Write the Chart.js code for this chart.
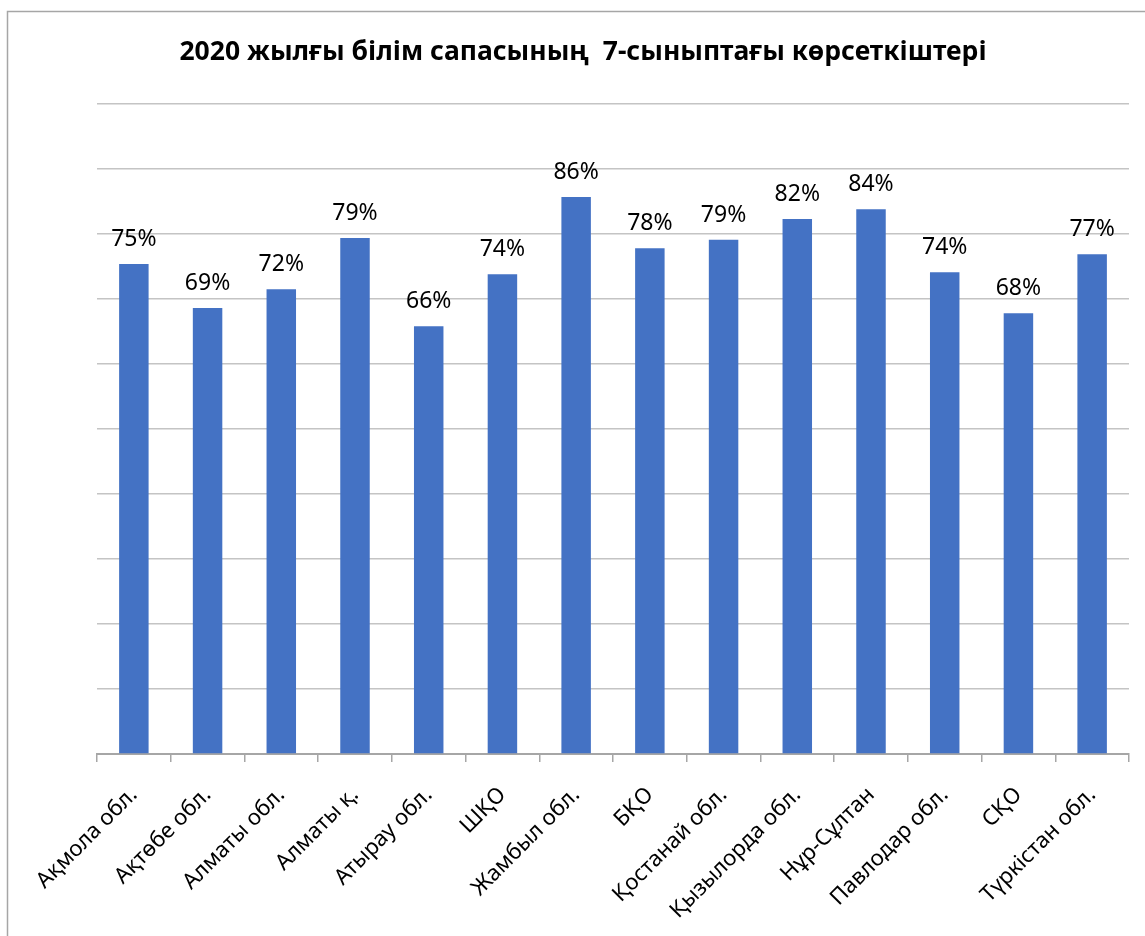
<!DOCTYPE html>
<html>
<head>
<meta charset="utf-8">
<script src="https://cdn.jsdelivr.net/npm/chart.js@4/dist/chart.umd.min.js"></script>
<style>
  html, body { margin: 0; padding: 0; background: #fff; }
  #wrap { width: 1145px; height: 936px; position: relative; }
</style>
</head>
<body>
<div id="wrap"><canvas id="chart" width="1145" height="936"></canvas></div>
<script>
/* ---------- Данные ---------- */
const title = '2020 жылғы білім сапасының  7-сыныптағы көрсеткіштері';
const regions = [
  'Ақмола обл.', 'Ақтөбе обл.', 'Алматы обл.', 'Алматы қ.', 'Атырау обл.', 'ШҚО',
  'Жамбыл обл.', 'БҚО', 'Қостанай обл.', 'Қызылорда обл.', 'Нұр-Сұлтан',
  'Павлодар обл.', 'СҚО', 'Түркістан обл.',
];
const quality = [75.4, 68.6, 71.5, 79.4, 65.8, 73.8, 85.7, 77.8, 79.1, 82.3, 83.8, 74.1, 67.8, 76.9];
const yTicks = [0, 10, 20, 30, 40, 50, 60, 70, 80, 90, 100];

const C = { bar: '#4472C4', grid: '#c4c4c4', axis: '#a6a6a6', frame: '#a6a6a6', text: '#000' };
const FONT = "'Noto Sans', 'Open Sans', sans-serif";

/* ---------- Плагины: рамка, заголовок, подписи значений ---------- */
const frame = {
  id: 'frame',
  beforeDraw(chart) {
    const { ctx } = chart;
    ctx.save();
    ctx.fillStyle = '#fff';
    ctx.fillRect(0, 0, chart.width, chart.height);
    ctx.strokeStyle = C.frame;
    ctx.lineWidth = 1.5;
    ctx.strokeRect(7.5, 11.5, 2000, 2000);
    ctx.restore();
  },
};

const heading = {
  id: 'heading',
  afterDraw(chart) {
    const { ctx } = chart;
    ctx.save();
    ctx.font = `bold 26.5px ${FONT}`;
    ctx.fillStyle = C.text;
    ctx.textAlign = 'center';
    ctx.textBaseline = 'middle';
    ctx.fillText(title, 583, 52);
    ctx.restore();
  },
};

const valueLabels = {
  id: 'valueLabels',
  afterDatasetsDraw(chart) {
    const { ctx } = chart;
    const meta = chart.getDatasetMeta(0);
    ctx.save();
    ctx.font = `23px ${FONT}`;
    ctx.fillStyle = C.text;
    ctx.textAlign = 'center';
    ctx.textBaseline = 'alphabetic';
    meta.data.forEach((bar, i) => {
      ctx.fillText(Math.round(quality[i]) + '%', bar.x, bar.y - 18);
    });
    ctx.restore();
  },
};

/* ---------- Диаграмма ---------- */
new Chart(document.getElementById('chart'), {
  type: 'bar',
  data: {
    labels: regions,
    datasets: [{
      data: quality,
      backgroundColor: C.bar,
      borderWidth: 0,
      categoryPercentage: 1,
      barPercentage: 0.4,
    }],
  },
  options: {
    responsive: false,
    animation: false,
    layout: { padding: { left: 97, right: 16, top: 104, bottom: 0 } },
    plugins: { legend: { display: false }, tooltip: { enabled: false } },
    scales: {
      x: {
        afterFit(scale) { scale.height = 182; },
        grid: { drawOnChartArea: false, drawTicks: true, tickLength: 8, color: C.axis, lineWidth: 1.5 },
        border: { color: C.axis, width: 2 },
        ticks: {
          autoSkip: false, minRotation: 45, maxRotation: 45, padding: 20,
          color: C.text, font: { family: FONT, size: 22 },
        },
      },
      y: {
        min: 0, max: 100,
        afterFit(scale) { scale.width = 0; },
        afterBuildTicks(scale) { scale.ticks = yTicks.map((v) => ({ value: v })); },
        ticks: { display: false },
        border: { display: false },
        grid: { color: C.grid, lineWidth: 1.5, drawTicks: false },
      },
    },
  },
  plugins: [frame, heading, valueLabels],
});
</script>
</body>
</html>
